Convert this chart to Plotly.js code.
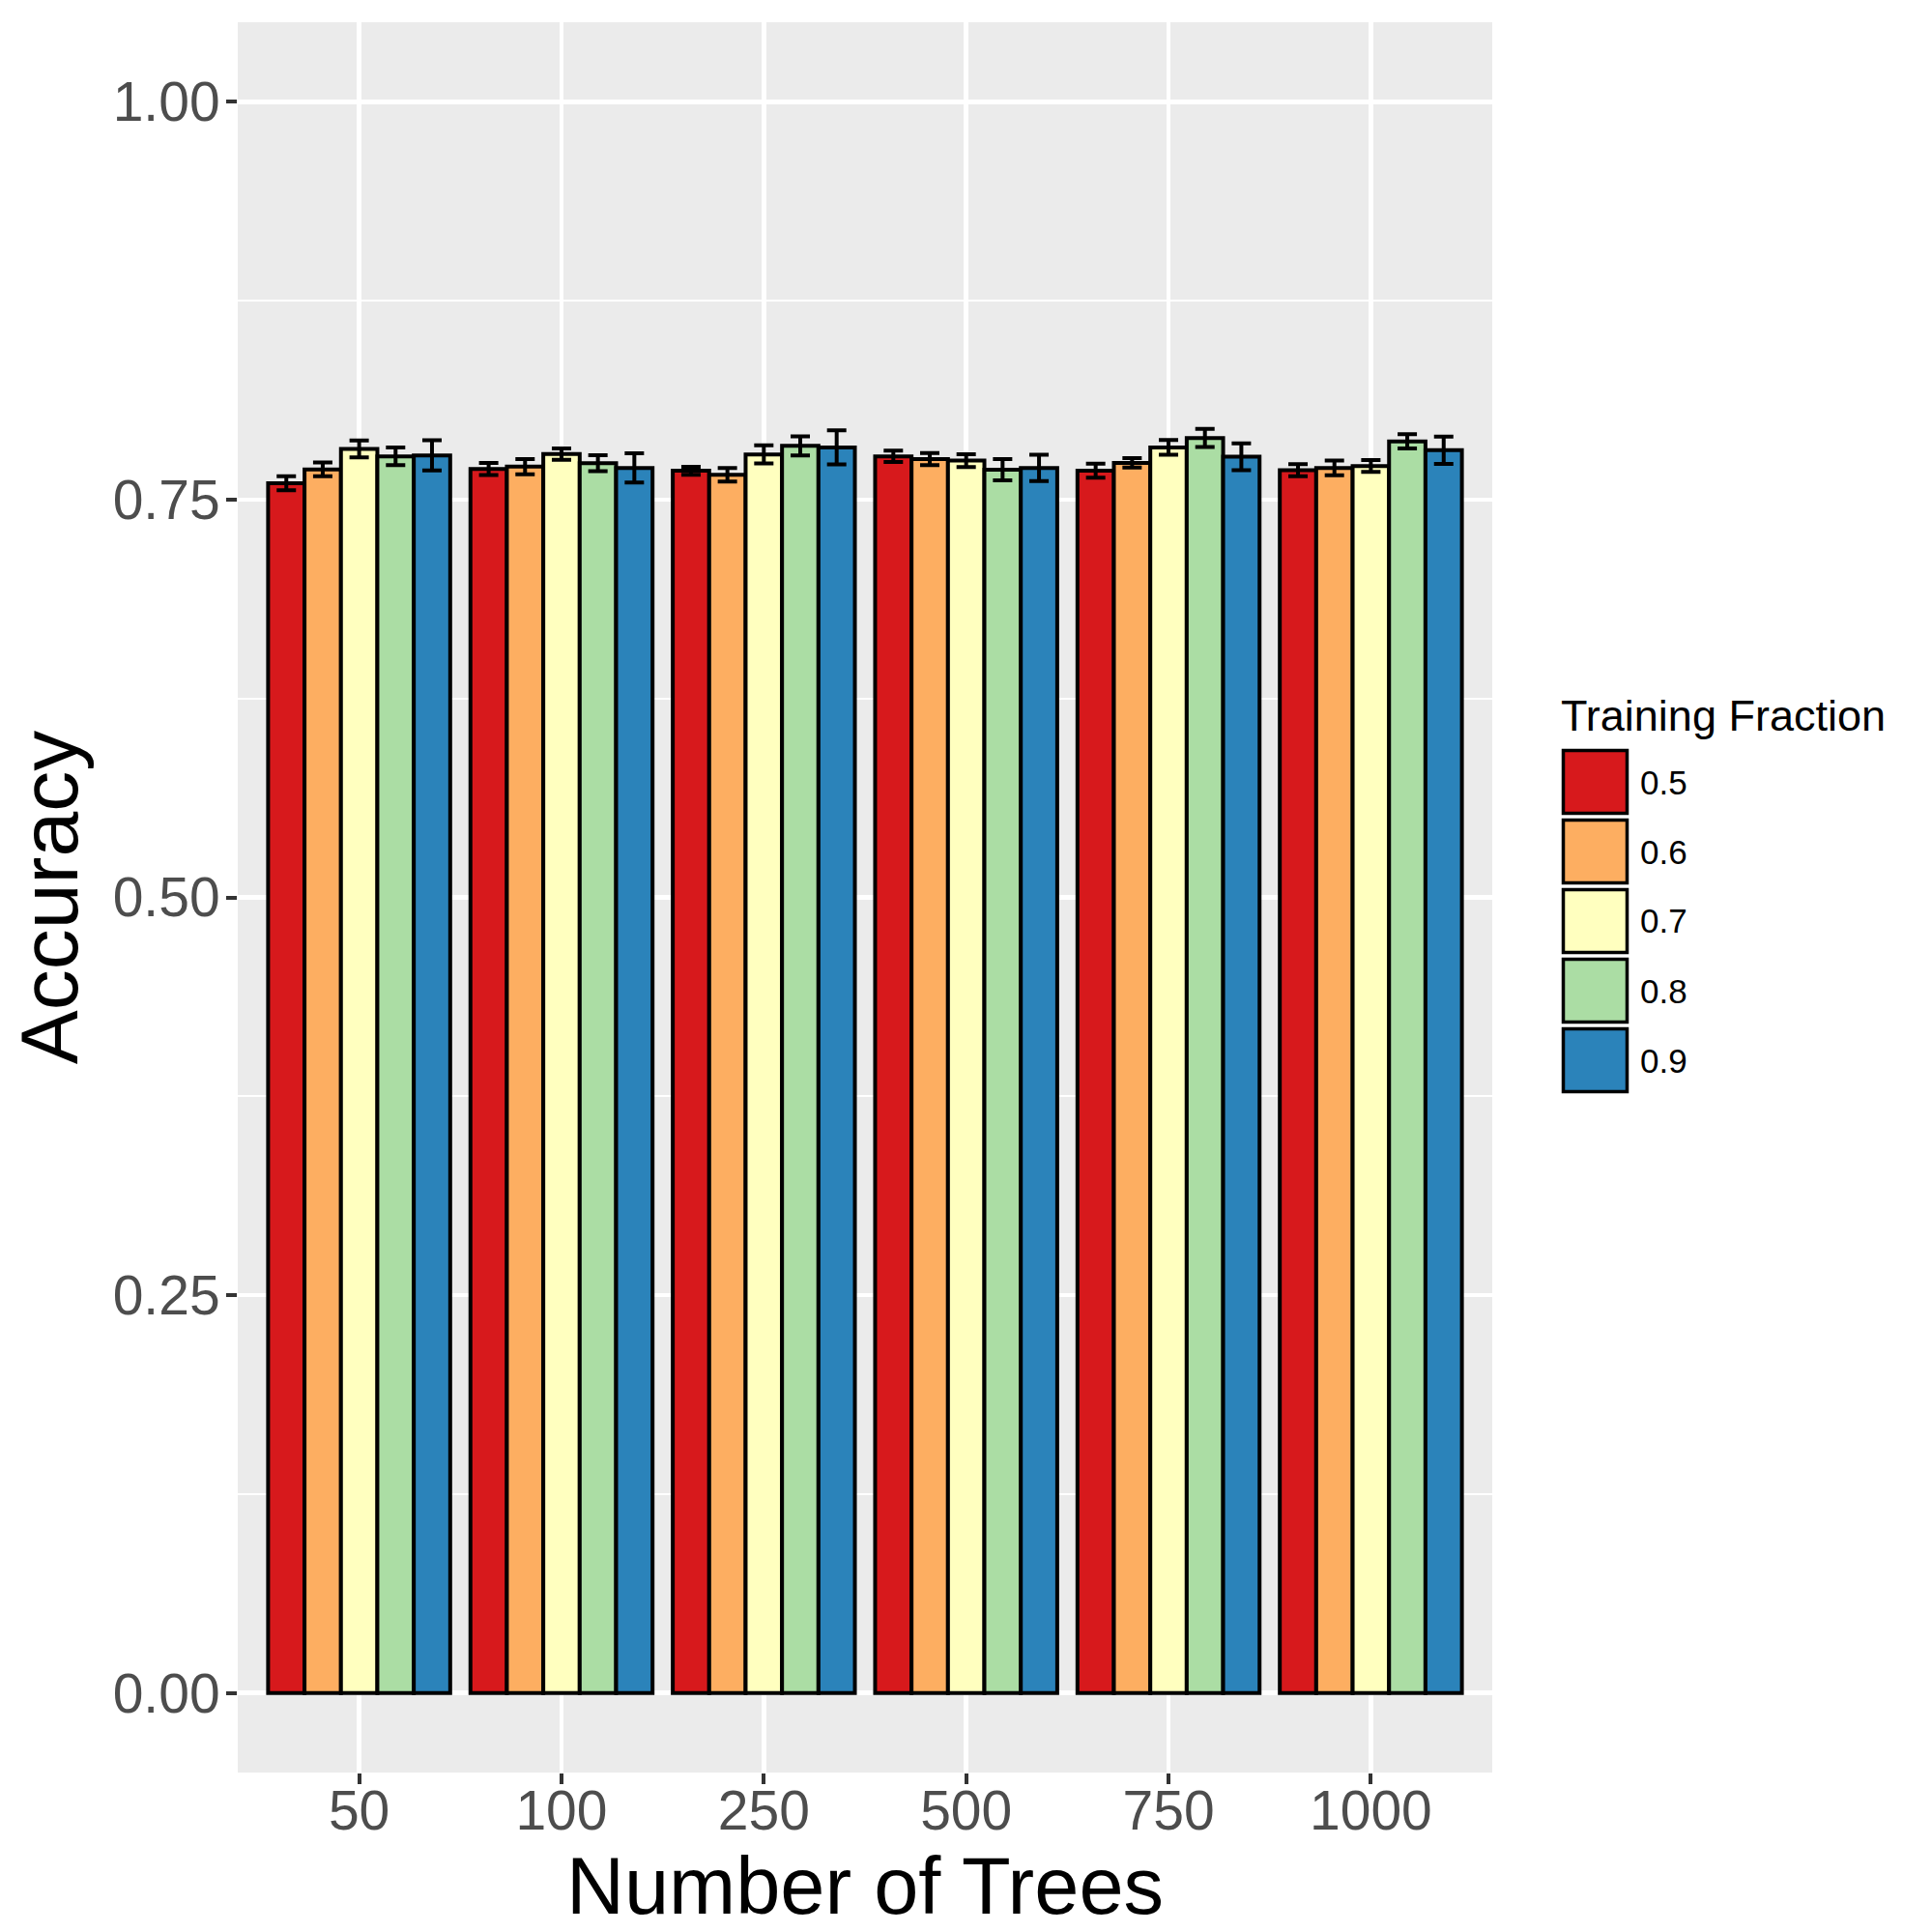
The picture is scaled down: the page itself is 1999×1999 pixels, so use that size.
<!DOCTYPE html>
<html>
<head>
<meta charset="utf-8">
<script src="https://cdn.plot.ly/plotly-3.0.1.min.js"></script>
<style>
  html, body { margin: 0; padding: 0; background: #ffffff; }
  #chart { width: 1999px; height: 1999px; }
</style>
</head>
<body>
<div id="chart"></div>
<script>
// ---- data ----
const trees = ['50', '100', '250', '500', '750', '1000'];
const fractions = ['0.5', '0.6', '0.7', '0.8', '0.9'];
const colors = ['#D7191C', '#FDAE61', '#FFFFBF', '#ABDDA4', '#2B83BA'];

const acc_05 = [0.7603, 0.7692, 0.7681, 0.7772, 0.7681, 0.7684];
const err_05 = [0.0044, 0.0038, 0.0025, 0.0036, 0.0044, 0.0038];
const acc_06 = [0.7690, 0.7707, 0.7656, 0.7755, 0.7731, 0.7699];
const err_06 = [0.0044, 0.0048, 0.0043, 0.0038, 0.0030, 0.0046];
const acc_07 = [0.7818, 0.7786, 0.7784, 0.7745, 0.7828, 0.7711];
const err_07 = [0.0053, 0.0036, 0.0057, 0.0040, 0.0046, 0.0037];
const acc_08 = [0.7772, 0.7729, 0.7838, 0.7688, 0.7887, 0.7866];
const err_08 = [0.0055, 0.0050, 0.0060, 0.0067, 0.0057, 0.0045];
const acc_09 = [0.7778, 0.7699, 0.7828, 0.7699, 0.7769, 0.7810];
const err_09 = [0.0095, 0.0092, 0.0107, 0.0083, 0.0085, 0.0086];

const yTickVals = [0, 0.25, 0.5, 0.75, 1.0];
const yTickText = ['0.00', '0.25', '0.50', '0.75', '1.00'];

const accs = [acc_05, acc_06, acc_07, acc_08, acc_09];
const errs = [err_05, err_06, err_07, err_08, err_09];

// ---- geometry ----
const W = 1999, H = 1999;
const M = { l: 246, r: 455, t: 23, b: 165 };
const PW = W - M.l - M.r, PH = H - M.t - M.b;
const px2x = px => (px - M.l) / PW;
const py2y = py => (H - M.b - py) / PH;

const FONT = 'Liberation Sans, Arial, Helvetica, sans-serif';

const traces = fractions.map((f, i) => ({
  type: 'bar',
  name: f,
  x: trees,
  y: accs[i],
  marker: { color: colors[i], line: { color: '#000000', width: 4 } },
  error_y: { type: 'data', array: errs[i], visible: true, color: '#000000', thickness: 4, width: 10 },
  showlegend: false,
  hoverinfo: 'x+y+name'
}));

// ---- custom legend (ggplot-like large keys) ----
const shapes = [];
const annotations = [];
const keyLeft = 1617.5, keyRight = 1683.5;   // outline centre lines
const keyCentre0 = 809, keyPitch = 72, keyHalf = 32.5;
fractions.forEach((f, i) => {
  const cy = keyCentre0 + i * keyPitch;
  shapes.push({
    type: 'rect', xref: 'paper', yref: 'paper', layer: 'above',
    x0: px2x(keyLeft), x1: px2x(keyRight),
    y0: py2y(cy + keyHalf), y1: py2y(cy - keyHalf),
    fillcolor: colors[i], line: { color: '#000000', width: 3.5 }
  });
  annotations.push({
    xref: 'paper', yref: 'paper', x: px2x(1695), y: py2y(cy),
    xanchor: 'left', yanchor: 'middle', showarrow: false,
    text: f, font: { family: FONT, size: 35, color: '#000000' }
  });
});
annotations.push({
  xref: 'paper', yref: 'paper', x: px2x(1613), y: py2y(740),
  xanchor: 'left', yanchor: 'middle', showarrow: false,
  text: 'Training Fraction', font: { family: FONT, size: 45, color: '#000000' }
});

const layout = {
  width: W, height: H,
  margin: M,
  paper_bgcolor: '#ffffff',
  plot_bgcolor: '#EBEBEB',
  barmode: 'group',
  bargap: 0.1,
  bargroupgap: 0,
  showlegend: false,
  font: { family: FONT },
  xaxis: {
    type: 'category',
    range: [-0.6, 5.6],
    showgrid: true, gridcolor: '#ffffff', gridwidth: 4.5,
    zeroline: false, showline: false,
    ticks: 'outside', ticklen: 11, tickwidth: 4, tickcolor: '#333333',
    tickfont: { family: FONT, size: 57, color: '#4D4D4D' },
    ticklabelstandoff: -21,
    automargin: false,
    title: { text: 'Number of Trees', font: { family: FONT, size: 83, color: '#000000' }, standoff: 9 }
  },
  yaxis: {
    range: [-0.05, 1.05],
    tickvals: yTickVals, ticktext: yTickText,
    showgrid: true, gridcolor: '#ffffff', gridwidth: 4.5,
    minor: { dtick: 0.125, tick0: 0.125, showgrid: true, gridcolor: '#ffffff', gridwidth: 2.2, ticks: '' },
    zeroline: false, showline: false,
    ticks: 'outside', ticklen: 11, tickwidth: 4, tickcolor: '#333333',
    tickfont: { family: FONT, size: 57, color: '#4D4D4D' },
    ticklabelstandoff: -5,
    automargin: false,
    title: { text: 'Accuracy', font: { family: FONT, size: 84, color: '#000000' }, standoff: 8 }
  },
  shapes: shapes,
  annotations: annotations
};

Plotly.newPlot('chart', traces, layout, { displayModeBar: false, staticPlot: true });
</script>
</body>
</html>
